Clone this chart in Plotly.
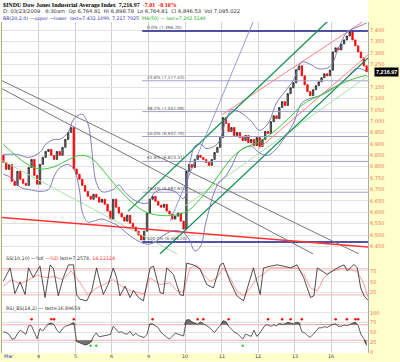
import plotly.graph_objects as go

# ---------------- data ----------------
day_labels = ["Mar", "4", "5", "6", "9", "10", "11", "12", "13", "16"]
bars_per_day = 13

mar03 = [6819, 6788, 6810, 6736, 6718, 6780, 6745, 6727, 6718, 6797, 6832, 6762, 6723]
mar04 = [6810, 6841, 6867, 6876, 6850, 6832, 6867, 6850, 6885, 6920, 6950, 6972, 6790]
mar05 = [6767, 6745, 6718, 6692, 6670, 6657, 6679, 6666, 6644, 6657, 6635, 6605, 6570]
mar06 = [6657, 6622, 6596, 6579, 6561, 6587, 6552, 6535, 6517, 6500, 6478, 6517, 6596]
mar09 = [6657, 6670, 6648, 6631, 6622, 6635, 6605, 6592, 6570, 6583, 6596, 6561, 6526]
mar10 = [6780, 6810, 6797, 6832, 6850, 6841, 6832, 6819, 6806, 6832, 6863, 6885, 6928]
mar11 = [7016, 6990, 6955, 6972, 6937, 6950, 6928, 6915, 6937, 6906, 6920, 6893, 6928]
mar12 = [6889, 6920, 6955, 6946, 6998, 7024, 7011, 7060, 7086, 7069, 7121, 7147, 7169]
mar13 = [7226, 7243, 7199, 7160, 7130, 7112, 7138, 7156, 7173, 7191, 7208, 7199, 7224]
mar16 = [7304, 7322, 7313, 7339, 7357, 7374, 7392, 7357, 7331, 7304, 7278, 7243, 7217]
first_open = 6850
last_price = 7216.97

# moving average (50)
ma50_bar = [0, 8, 13, 18, 23, 27, 31, 35, 39, 43, 48, 52, 57, 62, 66, 70, 74, 78, 82, 86, 90, 94, 98, 102, 106, 110, 114, 118, 122, 126, 129]
ma50_val = [6898, 6815, 6790, 6800, 6830, 6850, 6840, 6790, 6730, 6675, 6620, 6595, 6585, 6590, 6610, 6660, 6720, 6790, 6850, 6885, 6905, 6935, 6975, 7020, 7070, 7100, 7120, 7150, 7175, 7192, 7202.5]

# Bollinger bands
bbu_bar = [0, 5, 9, 13, 15, 18, 20, 23, 25, 28, 30, 31, 32, 33, 35, 39, 41, 43, 47, 51, 54, 57, 61, 64, 66, 68, 70, 72, 76, 79, 81, 84, 88, 91, 94, 97, 100, 103, 106, 109, 112, 116, 119, 122, 125, 127, 129]
bbu_val = [6854, 6854, 6841, 6863, 6898, 6920, 6920, 6950, 7010, 7030, 6990, 6920, 6800, 6730, 6690, 6700, 6720, 6690, 6650, 6640, 6690, 6700, 6690, 6660, 6800, 6890, 6900, 6880, 6900, 7000, 7050, 7040, 7000, 6960, 6990, 7080, 7130, 7180, 7260, 7250, 7230, 7240, 7320, 7390, 7410, 7420, 7432]
bbl_bar = [0, 3, 6, 9, 13, 16, 18, 20, 23, 25, 27, 28, 30, 32, 35, 38, 41, 43, 47, 51, 54, 57, 61, 64, 66, 68, 70, 72, 76, 79, 81, 84, 88, 91, 94, 97, 100, 103, 106, 109, 112, 116, 119, 122, 125, 127, 129]
bbl_val = [6767, 6750, 6710, 6700, 6692, 6700, 6758, 6795, 6810, 6790, 6700, 6600, 6557, 6561, 6570, 6557, 6539, 6517, 6480, 6460, 6470, 6500, 6520, 6510, 6480, 6430, 6450, 6560, 6720, 6760, 6800, 6870, 6890, 6860, 6850, 6880, 6930, 6990, 7080, 7100, 7110, 7140, 7160, 7190, 7230, 7230, 7217.8]

# Fibonacci retracement
fib_high = 7396.20
fib_low = 6469.20
fib_pcts = [0.0, 23.6, 38.2, 50.0, 61.8, 76.4, 100.0]
fib_start_bar = 49.3

# trend lines (bar, price) endpoints
gray_a_x, gray_a_y = [-1.2, 126.3], [7182, 6417]
gray_b_x, gray_b_y = [-1.2, 110.0], [7147, 6417]
red_h_x, red_h_y = [-1.2, 130.2], [6578, 6447]
grn_up_x, grn_up_y = [44.3, 115.3], [6605, 7440]
grn_lo_x, grn_lo_y = [55.6, 129.5], [6417, 7278]
red_up_x, red_up_y = [77.7, 128.5], [7029, 7444]
red_lo_x, red_lo_y = [90.4, 129.5], [6876, 7291]
pale_dn_x, pale_dn_y = [-1.2, 61.7], [6832, 6417]
pale_up_x, pale_up_y = [64.3, 129.5], [6626, 7199]
blue_x, blue_y = [59.2, 88.7], [6561, 7436]

# Slow stochastic
ssk_bar = [0, 2.4, 4.1, 5.9, 7.7, 8.9, 10.6, 13, 14.8, 16.6, 17.8, 19.5, 21.3, 23.1, 24.9, 26, 27.2, 29.6, 31.4, 33.1, 34.3, 35.5, 37.3, 39, 40.2, 41.4, 43.2, 45, 46.2, 48, 49.7,
           52.1, 53.3, 55.7, 56.8, 58, 60.4, 62.7, 63.9, 65.1, 67.5, 69.8, 72.2, 74.6, 77, 78.1, 80.5, 82.9, 85.3, 87.7, 88.8, 91.2, 92.4, 94.8, 97.2, 99.6, 101.9, 104.3, 106.7, 109.1, 110.3, 111.5, 115, 118.6, 121, 122.2, 124.5, 125.7, 126.9, 128.1, 129.5]
ssk_val = [52, 82, 23, 50, 21, 82, 60, 86, 14, 89, 80, 18, 60, 89, 89, 20, 10, 6, 30, 82, 50, 21, 45, 82, 60, 18, 40, 14, 30, 14, 6,
           82, 86, 25, 23, 82, 67, 21, 18, 93, 89, 80, 44, 36, 89, 93, 51, 18, 6, 59, 82, 21, 82, 86, 89, 86, 82, 89, 59, 14, 18, 82, 67, 82, 89, 75, 90, 82, 36, 18, 7.26]
ssd_bar = [0, 3, 6, 9, 12, 15, 18, 21, 24, 27, 30, 33, 36, 39, 42, 45, 48, 50, 52.1, 55.7, 59.2, 61.5, 63.9, 66.3, 68.7, 71, 73.4, 75.8, 78.1, 80.5, 82.9, 85.3, 87.7, 90, 92.4, 94.8, 99.6, 104.3, 106.7, 109.1, 111.5, 113.8, 116.2, 121, 125.7, 128.1, 129.5]
ssd_val = [40, 55, 45, 55, 65, 60, 62, 55, 75, 50, 20, 35, 45, 55, 40, 30, 25, 22, 59, 44, 48, 30, 26, 82, 89, 67, 51, 59, 82, 59, 29, 18, 36, 59, 67, 82, 82, 82, 67, 36, 29, 59, 74, 82, 74, 44, 14.22]

# RSI (one value per bar)
rsi = [52, 50, 45, 33, 34, 47, 56, 50, 45, 68, 67, 50, 34,
       60, 54, 64, 72, 74, 70, 56, 49, 60, 66, 68, 72, 75,
       27, 24, 23, 18, 20, 25, 40, 49, 39, 41, 42, 43, 45,
       66, 58, 50, 52, 47, 46, 53, 42, 48, 42, 39, 37, 45,
       72, 72, 66, 62, 50, 43, 38, 33, 40, 48, 46, 44, 41,
       82, 83, 77, 74, 71, 77, 72, 68, 64, 56, 50, 60, 68,
       80, 78, 66, 57, 51, 48, 41, 33, 46, 42, 40, 56, 40,
       48, 60, 69, 70, 66, 70, 67, 73, 71, 72, 76, 74, 72,
       76, 75, 52, 49, 42, 38, 45, 55, 62, 62, 65, 63, 68,
       71, 72, 66, 66, 69, 68, 70, 74, 76, 68, 45, 35, 16.9]
rsi_red_dots = [10, 17, 18, 25, 53, 69, 71, 80, 94, 99, 102, 106, 118, 122, 125, 126]
rsi_green_dots = [31, 33, 85]

# ---------------- derived ----------------
closes = mar03 + mar04 + mar05 + mar06 + mar09 + mar10 + mar11 + mar12 + mar13 + mar16
n = len(closes)
bars = list(range(n))
opens = [first_open] + closes[:-1]
highs = [max(o, c) for o, c in zip(opens, closes)]
lows = [min(o, c) for o, c in zip(opens, closes)]
day_start = [d * bars_per_day - 0.5 for d in range(len(day_labels))]

fig = go.Figure()

def tline(x, y, color, width, dash=None):
    fig.add_trace(go.Scatter(x=x, y=y, mode="lines", line=dict(color=color, width=width, dash=dash),
                             hoverinfo="skip", showlegend=False, xaxis="x", yaxis="y"))

# fib lines
for p in fib_pcts:
    lvl = fib_high - p / 100.0 * (fib_high - fib_low)
    edge = p in (0.0, 100.0)
    tline([fib_start_bar, n - 0.5], [lvl, lvl], "#1a1a8c" if edge else "#a0a0cc", 1.6 if edge else 1.0)
    fig.add_annotation(x=fib_start_bar + 1.0, y=lvl, xref="x", yref="y", text=f"{p:.1f}% ({lvl:,.2f})",
                       showarrow=False, xanchor="left", yanchor="bottom", yshift=-1,
                       font=dict(size=4.3, color="#555555", family="DejaVu Sans"))

tline(gray_a_x, gray_a_y, "#777777", 1.0)
tline(gray_b_x, gray_b_y, "#777777", 1.0)
tline(pale_dn_x, pale_dn_y, "#a8e0a8", 1.0)
tline(pale_up_x, pale_up_y, "#a8e0a8", 1.0)
tline(red_h_x, red_h_y, "#ff3333", 1.6)
tline(red_up_x, red_up_y, "#ff8080", 1.0)
tline(red_lo_x, red_lo_y, "#ff8080", 1.0)
tline(grn_up_x, grn_up_y, "#109050", 1.3)
tline(grn_lo_x, grn_lo_y, "#109050", 1.3)
tline(blue_x, blue_y, "#8080c0", 0.8)

# bollinger + MA
for bx, bv in ((bbu_bar, bbu_val), (bbl_bar, bbl_val)):
    fig.add_trace(go.Scatter(x=bx, y=bv, mode="lines", line=dict(color="#6f6fb8", width=0.9, shape="spline"),
                             hoverinfo="skip", showlegend=False, xaxis="x", yaxis="y"))
fig.add_trace(go.Scatter(x=ma50_bar, y=ma50_val, mode="lines", line=dict(color="#3cc83c", width=1.0, shape="spline"),
                         hoverinfo="skip", showlegend=False, xaxis="x", yaxis="y"))

# candles
fig.add_trace(go.Candlestick(x=bars, open=opens, high=highs, low=lows, close=closes,
                             increasing=dict(line=dict(color="#222222", width=0.8), fillcolor="#888888"),
                             decreasing=dict(line=dict(color="#ff0000", width=0.8), fillcolor="#ff0000"),
                             whiskerwidth=0, showlegend=False, hoverinfo="skip", xaxis="x", yaxis="y"))

# stochastic panel
for lv in (80, 20):
    fig.add_trace(go.Scatter(x=[-0.5, n - 0.5], y=[lv, lv], mode="lines", line=dict(color="#ffb0b0", width=1),
                             hoverinfo="skip", showlegend=False, xaxis="x", yaxis="y2"))
fig.add_trace(go.Scatter(x=ssd_bar, y=ssd_val, mode="lines", line=dict(color="#ff8080", width=0.8),
                         hoverinfo="skip", showlegend=False, xaxis="x", yaxis="y2"))
fig.add_trace(go.Scatter(x=ssk_bar, y=ssk_val, mode="lines", line=dict(color="#222222", width=0.8),
                         hoverinfo="skip", showlegend=False, xaxis="x", yaxis="y2"))

# RSI panel
for lv in (70, 30):
    fig.add_trace(go.Scatter(x=[-0.5, n - 0.5], y=[lv, lv], mode="lines", line=dict(color="#ffb0b0", width=1),
                             hoverinfo="skip", showlegend=False, xaxis="x", yaxis="y3"))
fig.add_trace(go.Scatter(x=bars, y=[70] * n, mode="lines", line=dict(width=0), hoverinfo="skip",
                         showlegend=False, xaxis="x", yaxis="y3"))
fig.add_trace(go.Scatter(x=bars, y=[max(v, 70) for v in rsi], mode="lines", line=dict(width=0),
                         fill="tonexty", fillcolor="#707070", hoverinfo="skip", showlegend=False, xaxis="x", yaxis="y3"))
fig.add_trace(go.Scatter(x=bars, y=[30] * n, mode="lines", line=dict(width=0), hoverinfo="skip",
                         showlegend=False, xaxis="x", yaxis="y3"))
fig.add_trace(go.Scatter(x=bars, y=[min(v, 30) for v in rsi], mode="lines", line=dict(width=0),
                         fill="tonexty", fillcolor="#707070", hoverinfo="skip", showlegend=False, xaxis="x", yaxis="y3"))
fig.add_trace(go.Scatter(x=bars, y=rsi, mode="lines", line=dict(color="#333333", width=0.8),
                         hoverinfo="skip", showlegend=False, xaxis="x", yaxis="y3"))
fig.add_trace(go.Scatter(x=rsi_red_dots, y=[84] * len(rsi_red_dots), mode="markers",
                         marker=dict(color="#ff0000", size=2.5), hoverinfo="skip", showlegend=False, xaxis="x", yaxis="y3"))
fig.add_trace(go.Scatter(x=rsi_green_dots, y=[16] * len(rsi_green_dots), mode="markers",
                         marker=dict(color="#33cc33", size=2.5), hoverinfo="skip", showlegend=False, xaxis="x", yaxis="y3"))

# ---------------- layout ----------------
H, W = 362, 400
mt, mb, ml, mr = 22, 9, 2, 32
ph = H - mt - mb
d_rsi = 49 / ph
d_ss = 99 / ph
tick_font = dict(size=5, color="#f07050", family="DejaVu Sans")
grid = "#e2e2e2"

main_ticks = list(range(6450, 7401, 50))
main_text = ["" if v == 7200 else f"{v:,}" for v in main_ticks]
fig.update_layout(
    width=W, height=H, margin=dict(l=ml, r=mr, t=mt, b=mb, pad=0),
    paper_bgcolor="#ffffcc", plot_bgcolor="#ffffff",
    font=dict(family="DejaVu Sans", size=5),
    xaxis=dict(range=[-0.5, n - 0.5], tickvals=day_start, showticklabels=False, showgrid=True,
               gridcolor="#d0d0d0", gridwidth=1, zeroline=False, ticks="", anchor="y3",
               rangeslider=dict(visible=False), fixedrange=True),
    yaxis=dict(domain=[d_ss, 1], range=[6416.7, 7435.6], side="right", tickvals=main_ticks,
               ticktext=main_text, tickfont=tick_font, gridcolor=grid,
               zeroline=False, ticks="", anchor="x", showline=True, linecolor="#aaaaaa", mirror=True),
    yaxis2=dict(domain=[d_rsi, d_ss], range=[-1, 114], side="right", tickvals=[25, 50, 75],
                tickfont=tick_font, gridcolor=grid, zeroline=False, ticks="", anchor="x",
                showline=True, linecolor="#aaaaaa", mirror=True),
    yaxis3=dict(domain=[0, d_rsi], range=[-2.5, 123], side="right", tickvals=[0, 25, 50, 75, 100],
                tickfont=tick_font, gridcolor=grid, zeroline=False, ticks="", anchor="x",
                showline=True, linecolor="#aaaaaa", mirror=True),
)

# white header area
fig.add_shape(type="rect", xref="paper", yref="paper", x0=-0.01, x1=1.0, y0=1.0, y1=1.0 + mt / ph,
              fillcolor="#ffffff", line=dict(width=0), layer="below")

def py(px):
    return 1 + (mt - px) / ph

fig.add_annotation(xref="paper", yref="paper", x=-0.003, y=py(4.5), xanchor="left", yanchor="middle", showarrow=False,
                   text="<b>$INDU Dow Jones Industrial Average Index</b>  <b>7,216.97</b>  <span style='color:#ff0000'><b>-7.01  -0.10%</b></span>",
                   font=dict(family="Liberation Serif", size=6.0, color="#000000"))
fig.add_annotation(xref="paper", yref="paper", x=-0.003, y=py(11.5), xanchor="left", yanchor="middle", showarrow=False,
                   text="D: 03/23/2009   6:30am  Op 6,764.81  Hi 6,898.78  Lo 6,764.81  Cl 6,846.53  Vol 7,095.022",
                   font=dict(family="DejaVu Sans", size=5.2, color="#333333"))
fig.add_annotation(xref="paper", yref="paper", x=-0.003, y=py(18.5), xanchor="left", yanchor="middle", showarrow=False,
                   text="<span style='color:#3333aa'>BB(20,2.0) \u2014upper \u2014lower  last=7,432.1099, 7,217.7925</span>  "
                        "<span style='color:#22aa22'>MA(50) \u2014 last=7,202.5146</span>",
                   font=dict(family="DejaVu Sans", size=4.7, color="#3333aa"))

# panel labels
fig.add_annotation(xref="paper", yref="y2 domain", x=0.005, y=1.0, xanchor="left", yanchor="top", showarrow=False,
                   text="SS(10,10) \u2014%K <span style='color:#ff3333'>\u2014%D</span> last=7.2578, <span style='color:#ff3333'>14.22124</span>",
                   font=dict(family="DejaVu Sans", size=4.8, color="#333333"))
fig.add_annotation(xref="paper", yref="y3 domain", x=0.005, y=1.0, xanchor="left", yanchor="top", showarrow=False,
                   text="RSI_BS(14,2) \u2014 last=16.89659",
                   font=dict(family="DejaVu Sans", size=4.8, color="#333333"))

# x labels
for d, lab in enumerate(day_labels):
    fig.add_annotation(xref="x", yref="paper", x=day_start[d], y=0, yanchor="top", yshift=1,
                       xanchor="left" if d == 0 else "center", showarrow=False, text=lab,
                       font=dict(family="DejaVu Sans", size=4.8, color="#2233cc" if d == 0 else "#333333"))

# last price badge (right-aligned to the figure edge)
fig.add_annotation(xref="paper", yref="y", x=(W - 1 - ml) / (W - ml - mr), y=last_price, xanchor="right",
                   yanchor="middle", showarrow=False, text=f"<b>{last_price:,.2f}</b>", bgcolor="#000000",
                   font=dict(family="Liberation Sans", size=5.5, color="#ffffff"), borderpad=1)

fig.write_html("out.html",
               config={"displayModeBar": False, "staticPlot": True},
               post_script="document.body.style.margin='0px';document.body.style.padding='0px';"
                           "document.body.style.overflow='hidden';")
